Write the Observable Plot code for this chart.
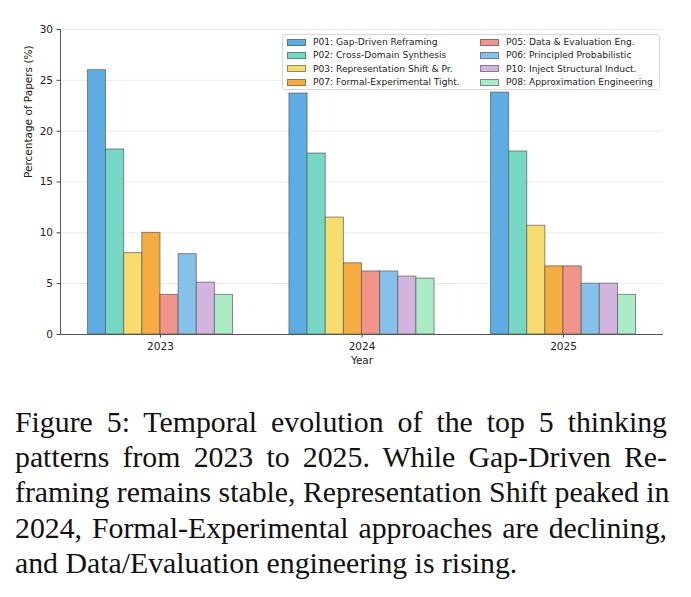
<!DOCTYPE html>
<html>
<head>
<meta charset="utf-8">
<script src="https://cdn.jsdelivr.net/npm/d3@7"></script>
<script src="https://cdn.jsdelivr.net/npm/@observablehq/plot@0.6"></script>
<style>
  html, body { margin: 0; padding: 0; background: #fff; }
  #wrap { position: relative; width: 691px; }
  #legend {
    position: absolute; left: 282px; top: 34px; width: 376px; height: 53px;
    border: 1px solid #d8d8d8; border-radius: 3px; background: rgba(255,255,255,0.85);
    font-family: "DejaVu Sans", sans-serif; font-size: 9.1px; color: #222;
    display: grid; grid-template-columns: 193px 180px; grid-auto-flow: column;
    grid-template-rows: repeat(4, 13.3px); padding-top: 0.5px; box-sizing: content-box;
  }
  #legend .item { display: flex; align-items: center; white-space: nowrap; }
  #legend .sw { width: 19px; height: 7px; margin-left: 4px; margin-right: 7px; border: 1px solid rgba(80,80,80,0.6); box-sizing: border-box; }
  #caption {
    font-family: "Liberation Serif", "Times New Roman", serif; font-size: 29.8px; line-height: 35.2px;
    color: #111; margin: 3px 24px 0 15px; width: 652px;
  }
  #caption div { text-align: justify; text-align-last: justify; white-space: nowrap; }
  #caption div.last { text-align-last: left; }
</style>
</head>
<body>
<div id="wrap">
  <div id="chart"></div>
  <div id="legend"></div>
</div>
<div id="caption"></div>
<script>
const years = ["2023", "2024", "2025"];
const patterns = [
  "P01: Gap-Driven Reframing",
  "P02: Cross-Domain Synthesis",
  "P03: Representation Shift & Pr.",
  "P07: Formal-Experimental Tight.",
  "P05: Data & Evaluation Eng.",
  "P06: Principled Probabilistic",
  "P10: Inject Structural Induct.",
  "P08: Approximation Engineering"
];
const colors = ["#5DADE2", "#76D7C4", "#F7DC6F", "#F5AD42", "#F1948A", "#85C1E9", "#D2B4DE", "#ABEBC6"];
const v2023 = [26.0, 18.2, 8.0, 10.0, 3.9, 7.9, 5.1, 3.9];
const v2024 = [23.7, 17.8, 11.5, 7.0, 6.2, 6.2, 5.7, 5.5];
const v2025 = [23.8, 18.0, 10.7, 6.7, 6.7, 5.0, 5.0, 3.9];
const yTicks = [0, 5, 10, 15, 20, 25, 30];
const yLabel = "Percentage of Papers (%)";
const xLabel = "Year";
const captionLines = [
  "Figure 5: Temporal evolution of the top 5 thinking",
  "patterns from 2023 to 2025. While Gap-Driven Re-",
  "framing remains stable, Representation Shift peaked in",
  "2024, Formal-Experimental approaches are declining,",
  "and Data/Evaluation engineering is rising."
];

const series = [v2023, v2024, v2025];
const barW = 0.09;
const rows = [];
series.forEach((vals, yi) => {
  vals.forEach((v, k) => rows.push({year: years[yi], yi, k, pattern: patterns[k], value: v}));
});

const chart = Plot.plot({
  width: 691,
  height: 401,
  marginLeft: 60,
  marginRight: 28,
  marginTop: 29,
  marginBottom: 67,
  style: {fontFamily: "DejaVu Sans, sans-serif", fontSize: "10.5px", color: "#222", background: "#fff"},
  x: {type: "linear", domain: [-0.496, 2.496], axis: null},
  y: {domain: [0, 30], axis: null},
  color: {domain: patterns, range: colors},
  marks: [
    Plot.ruleY(yTicks, {stroke: "#e6e6e6", strokeWidth: 0.8}),
    Plot.rectY(rows, {
      x1: d => d.yi + (d.k - 4) * barW,
      x2: d => d.yi + (d.k - 3) * barW,
      y1: 0, y2: "value",
      fill: "pattern", stroke: "#555", strokeOpacity: 0.75, strokeWidth: 0.9, inset: 0
    }),
    Plot.axisY({ticks: yTicks, tickSize: 3.5, tickPadding: 4, label: null, stroke: "#444"}),
    Plot.axisX({ticks: [0, 1, 2], tickFormat: i => years[i], tickSize: 3.5, tickPadding: 4.5, label: null, stroke: "#444"}),
    Plot.ruleX([-0.496], {stroke: "#555", strokeWidth: 1}),
    Plot.ruleY([0], {stroke: "#555", strokeWidth: 1}),
    Plot.text([xLabel], {frameAnchor: "bottom", dy: 29.5, fontSize: 10.5, fill: "#222"}),
    Plot.text([yLabel], {frameAnchor: "left", dx: -32, dy: -4, rotate: -90, fontSize: 10.5, fill: "#222"})
  ]
});
document.getElementById("chart").appendChild(chart);

const legend = document.getElementById("legend");
patterns.forEach((p, i) => {
  const item = document.createElement("div");
  item.className = "item";
  const sw = document.createElement("span");
  sw.className = "sw";
  sw.style.background = colors[i];
  const t = document.createElement("span");
  t.textContent = p;
  item.appendChild(sw);
  item.appendChild(t);
  legend.appendChild(item);
});

const cap = document.getElementById("caption");
captionLines.forEach((line, i) => {
  const d = document.createElement("div");
  if (i === captionLines.length - 1) d.className = "last";
  d.textContent = line;
  cap.appendChild(d);
});
</script>
</body>
</html>
